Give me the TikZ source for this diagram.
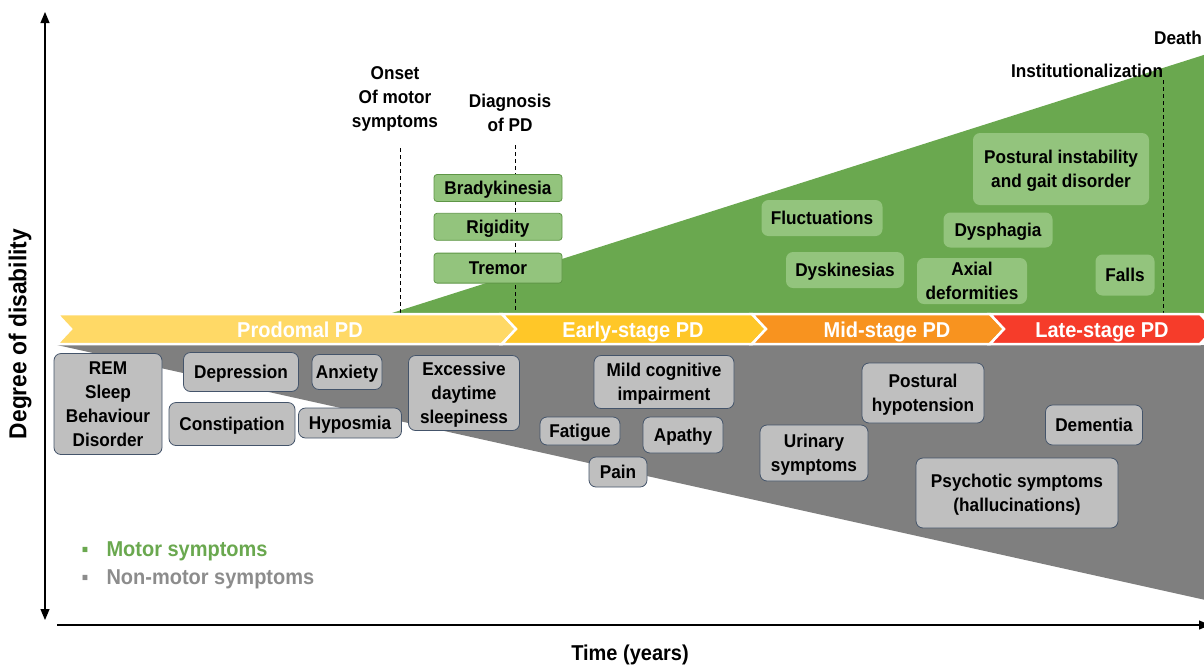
\documentclass[tikz,border=0pt]{standalone}
\usepackage{fontspec}
\setmainfont{Liberation Sans}[FakeStretch=0.93]
\usetikzlibrary{arrows.meta, positioning, calc}
\definecolor{motorgreen}{HTML}{6AA84F}
\definecolor{motorbox}{HTML}{93C47D}
\definecolor{motorline}{HTML}{5E9646}
\definecolor{nmgray}{HTML}{7F7F7F}
\definecolor{nmbox}{HTML}{BFBFBF}
\definecolor{nmline}{HTML}{44546A}
\definecolor{prodyellow}{HTML}{FFD966}
\definecolor{earlygold}{HTML}{FFC728}
\definecolor{midorange}{HTML}{F8931F}
\definecolor{latered}{HTML}{F63C2A}
\definecolor{legendgray}{HTML}{8C8C8C}
\tikzset{
    symfont/.style={font=\fontsize{18.5}{24}\selectfont\bfseries},
    mbox/.style={
        symfont, draw=motorline, fill=motorbox, rounded corners=3pt,
        line width=0.8pt, minimum width=128pt, minimum height=27pt,
        inner sep=0pt, text depth=0pt, align=center,
    },
    minbox/.style={
        symfont, fill=motorbox, rounded corners=7pt,
        inner sep=0pt, text depth=0pt, align=center,
    },
    nmsym/.style={
        symfont, draw=nmline, fill=nmbox, rounded corners=7pt,
        line width=0.8pt, inner sep=0pt, text depth=0pt, align=center,
    },
    stageband/.style={draw=white, line width=2.5pt},
    stagelabel/.style={
        font=\fontsize{21.5}{24}\selectfont\bfseries, text=white, anchor=base,
    },
    eventlabel/.style={symfont, align=center},
    eventline/.style={dash pattern=on 4pt off 3pt, line width=0.8pt},
    axisline/.style={line width=1.2pt},
    axislabel/.style={font=\fontsize{21.5}{24}\selectfont\bfseries},
    legendline/.style={font=\fontsize{21.5}{24}\selectfont\bfseries, anchor=west},
}

\begin{document}
\begin{tikzpicture}[x=1pt, y=-1pt]
\useasboundingbox (0,0) rectangle (1204,665);

% ═══ DISABILITY WEDGES ═══
\fill[motorgreen] (392,313) -- (1210,53) -- (1210,313) -- cycle;
\fill[nmgray] (57,345) -- (1210,345) -- (1210,601) -- cycle;

% ═══ MILESTONES ═══
\node[eventlabel] (onset) at (395,99) {Onset\\Of motor\\symptoms};
\node[eventlabel] (diag) at (510,113) {Diagnosis\\of PD};
\node[eventlabel] (inst) at (1087,71) {Institutionalization};
\node[eventlabel] (death) at (1178,38) {Death};

\coordinate (onsettop) at (400,148);
\coordinate (onsetbase) at (400,313);
\coordinate (diagtop) at (515,145);
\coordinate (diagbase) at (515,313);
\coordinate (insttop) at (1163,80);
\coordinate (instbase) at (1163,313);
\draw[eventline] (onsettop) -- (onsetbase);
\draw[eventline] (diagtop) -- (diagbase);
\draw[eventline] (insttop) -- (instbase);

% ═══ STAGE BAND ═══
\filldraw[stageband, fill=prodyellow] (57,314) -- (502,314) -- (516,329) -- (502,344) -- (57,344) -- (71,329) -- cycle;
\filldraw[stageband, fill=earlygold] (502,314) -- (752,314) -- (766,329) -- (752,344) -- (502,344) -- (516,329) -- cycle;
\filldraw[stageband, fill=midorange] (752,314) -- (990,314) -- (1004,329) -- (990,344) -- (752,344) -- (766,329) -- cycle;
\filldraw[stageband, fill=latered] (990,314) -- (1200,314) -- (1214,329) -- (1200,344) -- (990,344) -- (1004,329) -- cycle;

\node[stagelabel] (prod) at (300,337) {Prodomal PD};
\node[stagelabel] (early) at (633,337) {Early-stage PD};
\node[stagelabel] (mid) at (887,337) {Mid-stage PD};
\node[stagelabel] (late) at (1102,337) {Late-stage PD};

% ═══ MOTOR SYMPTOMS ═══
\node[mbox] (brady) at (498,188) {Bradykinesia};
\node[mbox, below=11pt of brady] (rigid) {Rigidity};
\node[mbox, below=12pt of rigid, minimum height=30pt] (tremor) {Tremor};

\node[minbox, minimum width=121pt, minimum height=36pt] (fluct) at (822,218) {Fluctuations};
\node[minbox, minimum width=118pt, minimum height=36pt] (dysk) at (845,270) {Dyskinesias};
\node[minbox, minimum width=176pt, minimum height=72pt] (pigd) at (1061,169) {Postural instability\\and gait disorder};
\node[minbox, minimum width=109pt, minimum height=35pt] (dysph) at (998,230) {Dysphagia};
\node[minbox, minimum width=110pt, minimum height=46pt] (axial) at (972,281) {Axial\\deformities};
\node[minbox, minimum width=59pt, minimum height=41pt] (falls) at (1125,275) {Falls};

% ═══ NON-MOTOR SYMPTOMS ═══
\node[nmsym, minimum width=108pt, minimum height=101pt] (rem) at (108,404) {REM\\Sleep\\Behaviour\\Disorder};
\node[nmsym, minimum width=115pt, minimum height=39pt] (depr) at (241,372) {Depression};
\node[nmsym, minimum width=70pt, minimum height=35pt] (anx) at (347,372) {Anxiety};
\node[nmsym, minimum width=126pt, minimum height=43pt] (const) at (232,424) {Constipation};
\node[nmsym, minimum width=103pt, minimum height=30pt] (hypo) at (350,423) {Hyposmia};
\node[nmsym, minimum width=111pt, minimum height=75pt] (eds) at (464,393) {Excessive\\daytime\\sleepiness};
\node[nmsym, minimum width=140pt, minimum height=53pt] (mci) at (664,382) {Mild cognitive\\impairment};
\node[nmsym, minimum width=80pt, minimum height=28pt] (fatig) at (580,431) {Fatigue};
\node[nmsym, minimum width=80pt, minimum height=36pt] (apathy) at (683,435) {Apathy};
\node[nmsym, minimum width=58pt, minimum height=30pt] (pain) at (618,472) {Pain};
\node[nmsym, minimum width=108pt, minimum height=56pt] (urin) at (814,453) {Urinary\\symptoms};
\node[nmsym, minimum width=122pt, minimum height=60pt] (posthyp) at (923,393) {Postural\\hypotension};
\node[nmsym, minimum width=97pt, minimum height=40pt] (dement) at (1094,425) {Dementia};
\node[nmsym, minimum width=202pt, minimum height=70pt] (psych) at (1017,493) {Psychotic symptoms\\(hallucinations)};

% ═══ LEGEND ═══
\node[legendline, text=motorgreen] (legmotor) at (78,551) {\makebox[25pt][l]{\fontsize{21}{21}\selectfont ▪}Motor symptoms};
\node[legendline, text=legendgray] (legnonmotor) at (78,579) {\makebox[25pt][l]{\fontsize{21}{21}\selectfont ▪}Non-motor symptoms};

% ═══ AXES ═══
\coordinate (ybot) at (45,620);
\coordinate (ytop) at (45,12);
\coordinate (xleft) at (57,625);
\coordinate (xright) at (1210,625);
\draw[axisline, {Triangle[length=11pt, width=9pt]}-{Triangle[length=11pt, width=9pt]}] (ybot) -- (ytop);
\draw[axisline, -{Triangle[length=11pt, width=9pt]}] (xleft) -- (xright);

\node[axislabel, rotate=90, font=\fontsize{24.5}{24}\selectfont\bfseries] (ylabel) at (20,334) {Degree of disability};
\node[axislabel] (xlabel) at (630,655) {Time (years)};

\end{tikzpicture}
\end{document}
